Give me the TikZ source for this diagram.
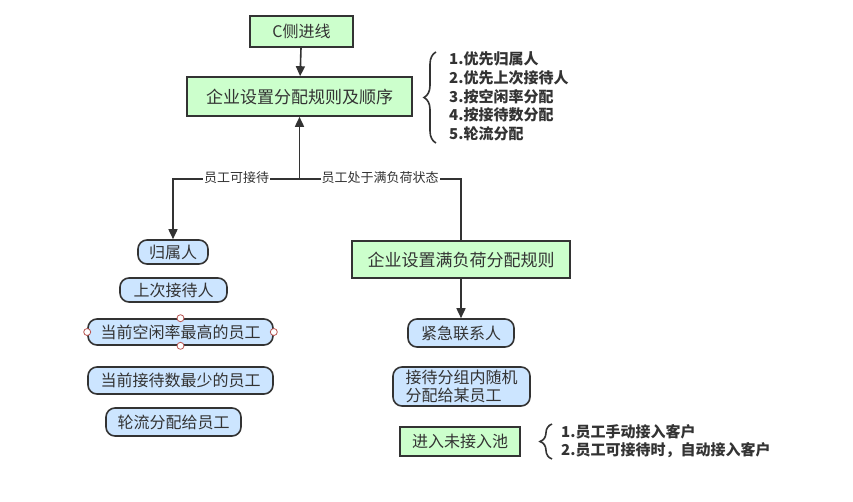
\documentclass[tikz,border=0pt]{standalone}
\usepackage{fontspec}
\setmainfont{Noto Sans CJK SC}
\usetikzlibrary{arrows.meta,decorations.pathreplacing,calc}
\definecolor{gfill}{HTML}{CCFFCC}
\definecolor{bfill}{HTML}{CCE5FF}
\definecolor{ln}{HTML}{333333}
\definecolor{hdl}{HTML}{B85450}
\begin{document}
\begin{tikzpicture}[x=1pt,y=-1pt,
  gbox/.style={draw=ln, line width=1.6pt, fill=gfill, text=ln, inner sep=0pt, font=\fontsize{16}{19}\selectfont},
  bbox/.style={draw=ln, line width=1.6pt, fill=bfill, text=ln, inner sep=0pt, rounded corners=9pt, font=\fontsize{16}{19}\selectfont},
  conn/.style={draw=ln, line width=1.6pt},
  arr/.style={conn, -{Triangle[width=9pt,length=10pt]}},
  lbl/.style={fill=white, text=ln, inner sep=1pt, font=\fontsize{13}{15}\selectfont},
  bracedeco/.style={draw=ln, line width=1.6pt, decorate, decoration={brace, amplitude=#1}},
  listtxt/.style={anchor=west, align=left, text=ln, inner sep=0pt, font=\bfseries\fontsize{15}{18.8}\selectfont},
  handle/.style={circle, draw=hdl, fill=white, line width=0.8pt, inner sep=0pt, minimum size=7pt}
]
\useasboundingbox (0,0) rectangle (853,501);

% green boxes
\node[gbox, minimum width=103, minimum height=31] (c) at (301.5,31.5) {C侧进线};
\node[gbox, minimum width=225, minimum height=39, font=\fontsize{17}{20}\selectfont] (main) at (299.5,96.5) {企业设置分配规则及顺序};
\node[gbox, minimum width=218, minimum height=37, font=\fontsize{17}{20}\selectfont] (full) at (461,259.5) {企业设置满负荷分配规则};
\node[gbox, minimum width=120, minimum height=29] (pool) at (460,441.5) {进入未接入池};

% blue boxes
\node[bbox, minimum width=70, minimum height=24] (gs) at (173,252) {归属人};
\node[bbox, minimum width=107, minimum height=24] (sc) at (173.5,290) {上次接待人};
\node[bbox, minimum width=185, minimum height=26] (kx) at (180.5,332) {当前空闲率最高的员工};
\node[bbox, minimum width=185, minimum height=27] (js) at (180.5,380.5) {当前接待数最少的员工};
\node[bbox, minimum width=135, minimum height=28] (lz) at (173.5,422) {轮流分配给员工};
\node[bbox, minimum width=106, minimum height=28] (jj) at (461,333) {紧急联系人};
\node[bbox, minimum width=137, minimum height=39, align=left, font=\fontsize{16}{18}\selectfont] (fz) at (461.5,386.5) {接待分组内随机\\分配给某员工};

% selection handles
\node[handle] (h1) at (kx.north) {};
\node[handle] (h2) at (kx.south) {};
\node[handle] (h3) at (kx.west) {};
\node[handle] (h4) at (kx.east) {};

% connectors
\draw[arr] (c) -- (main);
\coordinate (j) at ($(main.south)+(0,62)$);
\coordinate (l) at (gs.north |- j);
\coordinate (r) at (full.north |- j);
\draw[arr] (j) -- (main.south);
\draw[arr] (j) -- (l) -- (gs.north);
\draw[conn] (j) -- (r) -- (full.north);
\draw[arr] (full) -- (jj);
\node[lbl] (la) at (236.5,178) {员工可接待};
\node[lbl] (lb) at (380,178) {员工处于满负荷状态};

% braces and lists
\coordinate (b1s) at (436,143);
\coordinate (b1e) at (436,52);
\draw[bracedeco=12pt] (b1s) -- (b1e);
\node[listtxt] (list1) at (449,96.5) {1.优先归属人\\2.优先上次接待人\\3.按空闲率分配\\4.按接待数分配\\5.轮流分配};

\coordinate (b2s) at (552,459);
\coordinate (b2e) at (552,424);
\draw[bracedeco=12pt] (b2s) -- (b2e);
\node[listtxt, font=\bfseries\fontsize{15}{18}\selectfont] (list2) at (561,441) {1.员工手动接入客户\\2.员工可接待时，自动接入客户};
\end{tikzpicture}
\end{document}
